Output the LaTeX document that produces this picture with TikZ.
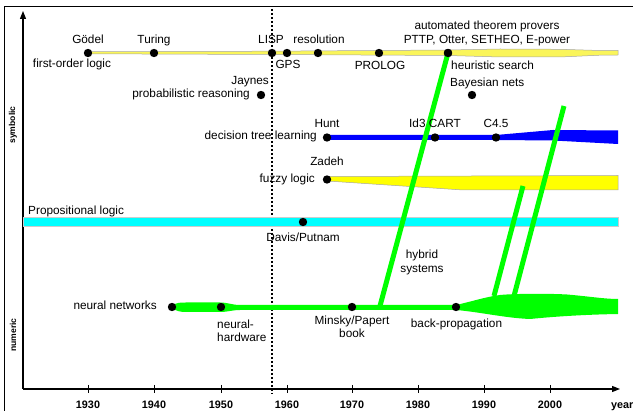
\documentclass[tikz,border=0pt]{standalone}
\usepackage{fontspec}
\setmainfont{Liberation Sans}
\usetikzlibrary{arrows.meta}
\definecolor{cyanband}{RGB}{0,255,255}
\definecolor{yelband}{RGB}{255,255,0}
\definecolor{yeltop}{RGB}{250,245,90}
\definecolor{greenband}{RGB}{0,255,0}
\definecolor{blueband}{RGB}{0,0,255}
\begin{document}
\begin{tikzpicture}[x=1pt,y=-1pt,
  lbl/.style={inner sep=0pt,font=\fontsize{11.8}{13.5}\selectfont,text height=8.5pt,text depth=2.5pt},
  yr/.style={inner sep=0pt,font=\bfseries\fontsize{10.8}{12}\selectfont,text height=7.7pt,text depth=0pt},
  side/.style={inner sep=0pt,font=\bfseries\fontsize{8.6}{10}\selectfont,rotate=90},
  dot/.style={circle,fill=black,inner sep=0pt,minimum size=8.4pt},
  axis/.style={line width=1.3pt,-{Triangle[length=8pt,width=6pt]}},
  hyb/.style={draw=greenband,line width=5pt},
  band/.style={draw=gray!70,line width=0.5pt}]
\useasboundingbox (0,0) rectangle (633,411);
% frame
\draw[line width=1pt] (4,411) -- (4,7) -- (633,7);
% dotted vertical line
\coordinate (dtop) at (272,9);
\coordinate (dbot) at (272,394);
\draw[line width=1.3pt,dash pattern=on 2pt off 2pt] (dtop) -- (dbot);
% axes
\coordinate (O) at (23,389);
\coordinate (ytip) at (23,11);
\coordinate (xtip) at (620,389);
\draw[axis] (O) -- (ytip);
\draw[axis] (O) -- (xtip);
\foreach \x/\y in {88/1930,154/1940,221/1950,287/1960,352/1970,418/1980,484/1990,550/2000}{
  \draw[line width=1pt] (\x,385) -- (\x,393);
  \node[yr] (y\y) at (\x,405) {\y};
}
\node[yr,anchor=west] (year) at (611,405) {year};
\node[side] (sym) at (13,125) {symbolic};
\node[side] (num) at (13,335) {numeric};
% bands
\filldraw[band,fill=yeltop] (88,51.7) -- (272,51.2) -- (448,50) -- (500,49) -- (560,49.3) -- (600,50.5) -- (618,50.5)
  -- (618,55) -- (600,55.2) -- (560,57) -- (500,57) -- (448,55.5) -- (272,54.5) -- (88,53.8) -- cycle;
\fill[blueband] (327,135) -- (496,135) -- (553,130) -- (618,130.5) -- (618,144) -- (553,140.5) -- (496,140) -- (327,140) -- cycle;
\filldraw[band,fill=yelband] (327,176.5) -- (618,175.5) -- (618,190) -- (463,190) -- (327,181) -- cycle;
\filldraw[draw=gray!40,line width=0.4pt,fill=cyanband] (23,217.7) rectangle (618,226.7);
% neural networks band
\fill[greenband] (172,306) .. controls (176,302.5) and (180,302.5) .. (186,302.5) -- (220,302.5)
  .. controls (228,302.5) and (232,305) .. (240,305) -- (456,305)
  .. controls (470,302) and (485,297) .. (500,295) .. controls (515,293.5) and (550,293.5) .. (567,294.5)
  .. controls (590,296.5) and (605,299) .. (618,299) -- (618,314)
  .. controls (590,314.5) and (560,316) .. (530,319) .. controls (505,318) and (480,312) .. (456,310)
  -- (240,310) .. controls (232,310) and (228,312) .. (220,312) -- (186,312)
  .. controls (180,312) and (176,311) .. (172,308) -- cycle;
% hybrid systems
\coordinate (h1) at (380,306);
\coordinate (h2t) at (564,106);
\coordinate (h2b) at (514,296);
\coordinate (h3t) at (523,186);
\coordinate (h3b) at (494,296);
% dots
\node[dot] (godel) at (88,53) {};
\node[dot] (turing) at (154,53) {};
\node[dot] (lisp) at (272,53) {};
\node[dot] (gps) at (287,53) {};
\node[dot] (resol) at (318,53) {};
\node[dot] (prolog) at (379,53) {};
\node[dot] (atp) at (448,53) {};
\draw[hyb] (atp.center) -- (h1);
\draw[hyb] (h2t) -- (h2b);
\draw[hyb] (h3t) -- (h3b);
\node[dot] at (448,53) {};
\node[dot] (jaynes) at (261,95) {};
\node[dot] (bayes) at (472,95) {};
\node[dot] (hunt) at (327,137.5) {};
\node[dot] (id3) at (435,137.5) {};
\node[dot] (c45) at (496,137.5) {};
\node[dot] (zadeh) at (327,179.5) {};
\node[dot] (davis) at (303,222) {};
\node[dot] (nn) at (172,307) {};
\node[dot] (nh) at (221,307) {};
\node[dot] (minsky) at (352,307) {};
\node[dot] (bp) at (456,307) {};
% labels
\node[lbl] (tgodel) at (88,41) {Gödel};
\node[lbl] (tturing) at (154,41) {Turing};
\node[lbl] (tlisp) at (271,41) {LISP};
\node[lbl] (tresol) at (319,41) {resolution};
\node[lbl] (tfol) at (72,65) {first-order logic};
\node[lbl] (tgps) at (288,66) {GPS};
\node[lbl,anchor=east] (tjaynes) at (269,82) {Jaynes};
\node[lbl,anchor=east] (tprob) at (250,95) {probabilistic reasoning};
\node[lbl] (tprolog) at (380,67) {PROLOG};
\node[lbl] (tatp) at (487,27) {automated theorem provers};
\node[lbl] (tpttp) at (487,41) {PTTP, Otter, SETHEO, E-power};
\node[lbl,anchor=west] (theur) at (451,67) {heuristic search};
\node[lbl,anchor=west] (tbayes) at (450,84) {Bayesian nets};
\node[lbl] (thunt) at (327,125) {Hunt};
\node[lbl,anchor=east] (tdtl) at (317,137) {decision tree learning};
\node[lbl] (tid3) at (435,125) {Id3 CART};
\node[lbl] (tc45) at (496,125) {C4.5};
\node[lbl] (tzadeh) at (327,163) {Zadeh};
\node[lbl,anchor=east] (tfuzzy) at (315,180) {fuzzy logic};
\node[lbl,anchor=west] (tprop) at (28,212) {Propositional logic};
\node[lbl] (tdavis) at (303,239) {Davis/Putnam};
\node[lbl] (thyb) at (422,256) {hybrid};
\node[lbl] (tsys) at (422,270) {systems};
\node[lbl,anchor=east] (tnn) at (157,307) {neural networks};
\node[lbl,anchor=west] (tnh1) at (217,326) {neural-};
\node[lbl,anchor=west] (tnh2) at (217,339) {hardware};
\node[lbl] (tmin1) at (352,322) {Minsky/Papert};
\node[lbl] (tmin2) at (352,335) {book};
\node[lbl] (tbp) at (456.5,325) {back-propagation};
\end{tikzpicture}
\end{document}
